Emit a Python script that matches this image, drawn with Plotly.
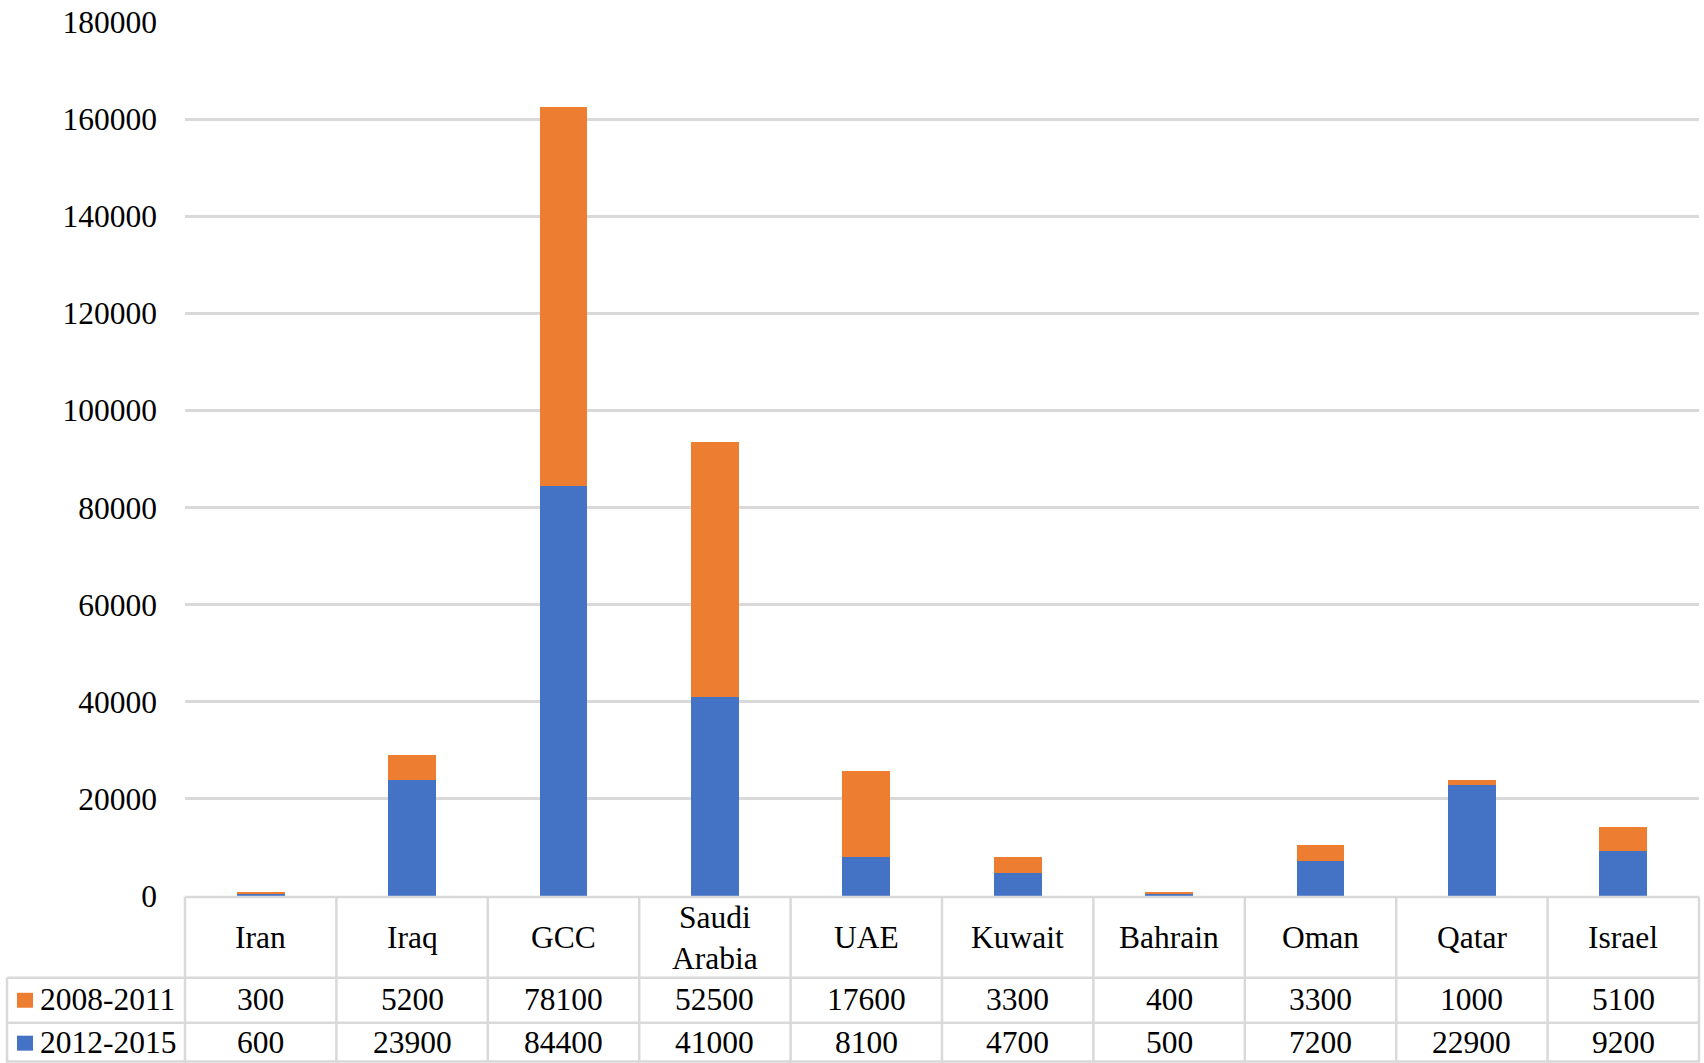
import plotly.graph_objects as go

# ---- data ----
categories = ["Iran", "Iraq", "GCC", "Saudi Arabia", "UAE", "Kuwait",
              "Bahrain", "Oman", "Qatar", "Israel"]
category_labels = ["Iran", "Iraq", "GCC", "Saudi<br>Arabia", "UAE", "Kuwait",
                   "Bahrain", "Oman", "Qatar", "Israel"]
series_names = ["2008-2011", "2012-2015"]
values_2008_2011 = [300, 5200, 78100, 52500, 17600, 3300, 400, 3300, 1000, 5100]
values_2012_2015 = [600, 23900, 84400, 41000, 8100, 4700, 500, 7200, 22900, 9200]
y_tick_values = [0, 20000, 40000, 60000, 80000, 100000, 120000, 140000, 160000, 180000]

# ---- styling ----
W, H = 1704, 1063
L, R, T, B = 185, 5, 20, 167
ORANGE = "#ED7D31"
BLUE = "#4472C4"
GRID = "#D9D9D9"
FONT = "Liberation Serif"
FS = 31.5

plot_w = W - L - R
plot_h = H - T - B
y_bottom = H - B


def px_x(p):
    return (p - L) / plot_w


def px_y(p):
    return (y_bottom - p) / plot_h


fig = go.Figure()
fig.add_trace(go.Bar(x=categories, y=values_2012_2015, name=series_names[1],
                     marker=dict(color=BLUE, line=dict(width=0)), showlegend=False))
fig.add_trace(go.Bar(x=categories, y=values_2008_2011, name=series_names[0],
                     marker=dict(color=ORANGE, line=dict(width=0)), showlegend=False))

shapes = []
annotations = []
line_style = dict(color=GRID, width=2.5)

# data table grid: rows
row_lines = [897, 978, 1023, 1062]
for i, yp in enumerate(row_lines):
    x0 = L if i == 0 else 7
    shapes.append(dict(type="line", xref="paper", yref="paper",
                       x0=px_x(x0), x1=1, y0=px_y(yp), y1=px_y(yp), line=line_style))
# data table grid: columns
n = len(categories)
col_w = plot_w / n
for k in range(n + 1):
    xp = L + k * col_w
    shapes.append(dict(type="line", xref="paper", yref="paper",
                       x0=px_x(xp), x1=px_x(xp), y0=px_y(897), y1=px_y(1063),
                       line=line_style))
shapes.append(dict(type="line", xref="paper", yref="paper",
                   x0=px_x(7), x1=px_x(7), y0=px_y(978), y1=px_y(1063), line=line_style))

# category header row
for cat, lab in zip(categories, category_labels):
    annotations.append(dict(x=cat, xref="x", y=px_y(938), yref="paper", text=lab,
                            showarrow=False, xanchor="center", yanchor="middle",
                            font=dict(family=FONT, size=FS, color="black")))

# value rows with legend keys
rows = [(series_names[0], values_2008_2011, ORANGE, 1000),
        (series_names[1], values_2012_2015, BLUE, 1043)]
for name, vals, color, yc in rows:
    shapes.append(dict(type="rect", xref="paper", yref="paper",
                       x0=px_x(17), x1=px_x(33), y0=px_y(yc - 7), y1=px_y(yc + 8),
                       fillcolor=color, line=dict(width=0)))
    annotations.append(dict(x=px_x(38), xref="paper", y=px_y(yc), yref="paper",
                            text=name, showarrow=False, xanchor="left", yanchor="middle",
                            font=dict(family=FONT, size=FS, color="black")))
    for cat, v in zip(categories, vals):
        annotations.append(dict(x=cat, xref="x", y=px_y(yc), yref="paper", text=str(v),
                                showarrow=False, xanchor="center", yanchor="middle",
                                font=dict(family=FONT, size=FS, color="black")))

fig.update_layout(
    width=W, height=H,
    margin=dict(l=L, r=R, t=T, b=B, pad=0),
    barmode="stack",
    bargap=0.685,
    plot_bgcolor="white", paper_bgcolor="white",
    font=dict(family=FONT, size=FS, color="black"),
    shapes=shapes,
    annotations=annotations,
    xaxis=dict(showticklabels=False, showgrid=False, zeroline=False, showline=False,
               ticks="", fixedrange=True),
    yaxis=dict(range=[0, 180000], tickvals=y_tick_values,
               ticktext=[str(v) for v in y_tick_values],
               showgrid=True, gridcolor=GRID, gridwidth=2.5, zeroline=False,
               showline=False, ticks="", ticklabelstandoff=27,
               tickfont=dict(family=FONT, size=FS, color="black")),
)

fig.write_html("out.html")
